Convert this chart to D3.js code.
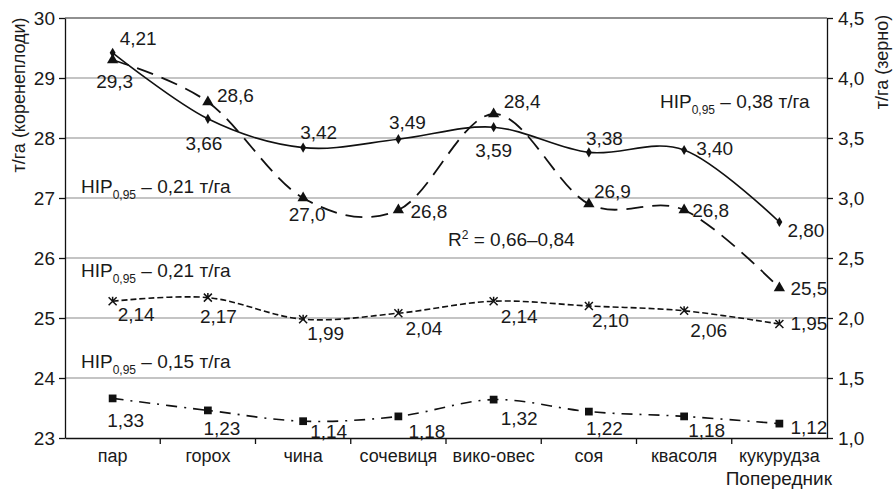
<!DOCTYPE html>
<html>
<head>
<meta charset="utf-8">
<style>
body { margin: 0; background: #fff; }
text { font-family: 'Liberation Sans', Arial, sans-serif; fill: #1a1a1a; }
</style>
</head>
<body>

<svg id='chart'></svg>

<script src="https://cdnjs.cloudflare.com/ajax/libs/d3/7.8.5/d3.min.js"></script>
<script>
var WIDTH = 893, HEIGHT = 490
var MARGIN = {top: 18, right: 66, bottom: 52, left: 65}

var categories = ['пар', 'горох', 'чина', 'сочевиця', 'вико-овес', 'соя', 'квасоля', 'кукурудза']

// коренеплоди, left axis
var rootYield = [29.3, 28.6, 27.0, 26.8, 28.4, 26.9, 26.8, 25.5]
// зерно, right axis
var grainYield = [4.21, 3.66, 3.42, 3.49, 3.59, 3.38, 3.40, 2.80]
var grainYield2 = [2.14, 2.17, 1.99, 2.04, 2.14, 2.10, 2.06, 1.95]
var grainYield3 = [1.33, 1.23, 1.14, 1.18, 1.32, 1.22, 1.18, 1.12]

var leftTicks = [23, 24, 25, 26, 27, 28, 29, 30]
var rightTicks = [1.0, 1.5, 2.0, 2.5, 3.0, 3.5, 4.0, 4.5]

// label offsets from the point: [dx, dy, anchor]
var rootLabelOffsets = [[2,28,'middle'],[9,0,'start'],[4,23,'middle'],[12,8,'start'],[10,-6,'start'],[5,-6,'start'],[8,7,'start'],[11,7,'start']]
var grainLabelOffsets = [[7,-8,'start'],[-4,31,'middle'],[-3,-9,'start'],[9,-10,'middle'],[0,30,'middle'],[-3,-7,'start'],[12,5,'start'],[8,15,'start']]
var grain2LabelOffsets = [[5,20,'start'],[-8,25,'start'],[4,21,'start'],[7,22,'start'],[7,22,'start'],[3,21,'start'],[6,26,'start'],[11,6,'start']]
var grain3LabelOffsets = [[13,29,'middle'],[14,25,'middle'],[7,17,'start'],[10,22,'start'],[7,25,'start'],[-3,23,'start'],[4,21,'start'],[11,10,'start']]

var fmt = function(d, digits) { return d.toFixed(digits).replace('.', ',') }
var FS = 19

var svg = d3.select('#chart').attr('width', WIDTH).attr('height', HEIGHT)

var x = d3.scaleBand().domain(categories).range([MARGIN.left, WIDTH - MARGIN.right])
var yL = d3.scaleLinear().domain([23, 30]).range([HEIGHT - MARGIN.bottom, MARGIN.top])
var yR = d3.scaleLinear().domain([1, 4.5]).range([HEIGHT - MARGIN.bottom, MARGIN.top])
var cx = function(i) { return x(categories[i]) + x.bandwidth() / 2 }

// grid
svg.append('g').selectAll('line')
	.data(leftTicks.slice(1))
	.enter().append('line')
	.attr('x1', MARGIN.left).attr('x2', WIDTH - MARGIN.right)
	.attr('y1', function(d){ return yL(d) }).attr('y2', function(d){ return yL(d) })
	.style('stroke', function(d){ return d === 30 ? '#222' : '#8a8a8a' })
	.style('stroke-width', 1.2)

// axes
var leftAxis = svg.append('g')
	.attr('transform', 'translate(' + MARGIN.left + ',0)')
	.call(d3.axisLeft(yL).tickValues(leftTicks).tickFormat(d3.format('d')).tickSize(6).tickSizeOuter(0).tickPadding(4))
var rightAxis = svg.append('g')
	.attr('transform', 'translate(' + (WIDTH - MARGIN.right) + ',0)')
	.call(d3.axisRight(yR).tickValues(rightTicks).tickFormat(function(d){ return fmt(d, 1) }).tickSize(6).tickSizeOuter(0).tickPadding(5))
var bottomAxis = svg.append('g')
	.attr('transform', 'translate(0,' + (HEIGHT - MARGIN.bottom) + ')')
	.call(d3.axisBottom(x).tickSize(0).tickPadding(11))

;[leftAxis, rightAxis, bottomAxis].forEach(function(a) {
	a.select('.domain').style('stroke', '#111').style('stroke-width', 1.3)
	a.selectAll('.tick line').style('stroke', '#111').style('stroke-width', 1.3)
	a.selectAll('text').style('fill', '#1a1a1a').attr('font-family', "'Liberation Sans', Arial, sans-serif")
})
leftAxis.selectAll('text').attr('font-size', FS)
rightAxis.selectAll('text').attr('font-size', FS)
bottomAxis.selectAll('text').attr('font-size', 18)

// category boundary ticks
var edges = categories.map(function(c){ return x(c) }).slice(1)
bottomAxis.selectAll('.edge').data(edges).enter().append('line')
	.attr('x1', function(d){ return d }).attr('x2', function(d){ return d })
	.attr('y1', 0).attr('y2', 6)
	.style('stroke', '#111').style('stroke-width', 1.3)

// lines
var line = function(scale) {
	return d3.line()
		.x(function(d, i){ return cx(i) })
		.y(function(d){ return scale(d) })
		.curve(d3.curveCardinal.tension(0))
}

function drawSeries(values, scale, dash, width) {
	svg.append('path')
		.datum(values)
		.style('fill', 'none')
		.style('stroke', '#111')
		.style('stroke-width', width)
		.style('stroke-dasharray', dash)
		.attr('d', line(scale))
}

drawSeries(grainYield, yR, null, 1.6)
drawSeries(rootYield, yL, '17,9', 1.8)
drawSeries(grainYield2, yR, '6,3', 1.6)
drawSeries(grainYield3, yR, '11,7,2,7', 1.6)

// markers
function drawMarkers(values, scale, type, size) {
	svg.append('g').selectAll('path')
		.data(values)
		.enter().append('path')
		.attr('transform', function(d, i){ return 'translate(' + cx(i) + ',' + scale(d) + ')' })
		.attr('d', d3.symbol().type(type).size(size))
		.style('fill', '#111')
}
drawMarkers(grainYield, yR, d3.symbolDiamond, 30)
drawMarkers(rootYield, yL, d3.symbolTriangle, 55)
drawMarkers(grainYield3, yR, d3.symbolSquare, 60)

// asterisk markers
var star = svg.append('g').selectAll('g')
	.data(grainYield2)
	.enter().append('g')
	.attr('transform', function(d, i){ return 'translate(' + cx(i) + ',' + yR(d) + ')' })
star.append('path')
	.attr('d', 'M-4,-4L4,4M-4,4L4,-4M0,-4.5L0,0')
	.style('stroke', '#111').style('stroke-width', 1.5)

// value labels
function drawLabels(values, scale, offsets, digits) {
	svg.append('g').selectAll('text')
		.data(values)
		.enter().append('text')
		.attr('x', function(d, i){ return cx(i) + offsets[i][0] })
		.attr('y', function(d, i){ return scale(d) + offsets[i][1] })
		.attr('text-anchor', function(d, i){ return offsets[i][2] })
		.attr('font-size', FS)
		.text(function(d){ return fmt(d, digits) })
}
drawLabels(rootYield, yL, rootLabelOffsets, 1)
drawLabels(grainYield, yR, grainLabelOffsets, 2)
drawLabels(grainYield2, yR, grain2LabelOffsets, 2)
drawLabels(grainYield3, yR, grain3LabelOffsets, 2)

// НІР annotations
function hip(xPos, yPos, value) {
	var t = svg.append('text')
		.attr('x', xPos).attr('y', yPos)
		.attr('font-size', FS)
	t.append('tspan').text('НІР')
	t.append('tspan').attr('font-size', 12).attr('dy', 6).text('0,95')
	t.append('tspan').attr('dy', -6).text(' – ' + value + ' т/га')
}
hip(MARGIN.left + 16, yL(27.08), '0,21')
hip(MARGIN.left + 16, yL(25.68), '0,21')
hip(MARGIN.left + 16, yL(24.17), '0,15')
hip(660, yR(3.75), '0,38')

var r2 = svg.append('text').attr('x', 448).attr('y', yL(26.2)).attr('font-size', FS)
r2.append('tspan').text('R')
r2.append('tspan').attr('font-size', 12).attr('dy', -7).text('2')
r2.append('tspan').attr('dy', 7).text(' = 0,66–0,84')

// axis titles
svg.append('text')
	.attr('transform', 'translate(25,' + 95 + ') rotate(-90)')
	.attr('text-anchor', 'middle')
	.attr('font-size', 18)
	.text('т/га (коренеплоди)')
svg.append('text')
	.attr('transform', 'translate(888,' + 62 + ') rotate(-90)')
	.attr('text-anchor', 'middle')
	.attr('font-size', 18)
	.text('т/га (зерно)')
svg.append('text')
	.attr('x', 832).attr('y', 485)
	.attr('text-anchor', 'end')
	.attr('font-size', 19)
	.text('Попередник')
</script>

</body>
</html>
